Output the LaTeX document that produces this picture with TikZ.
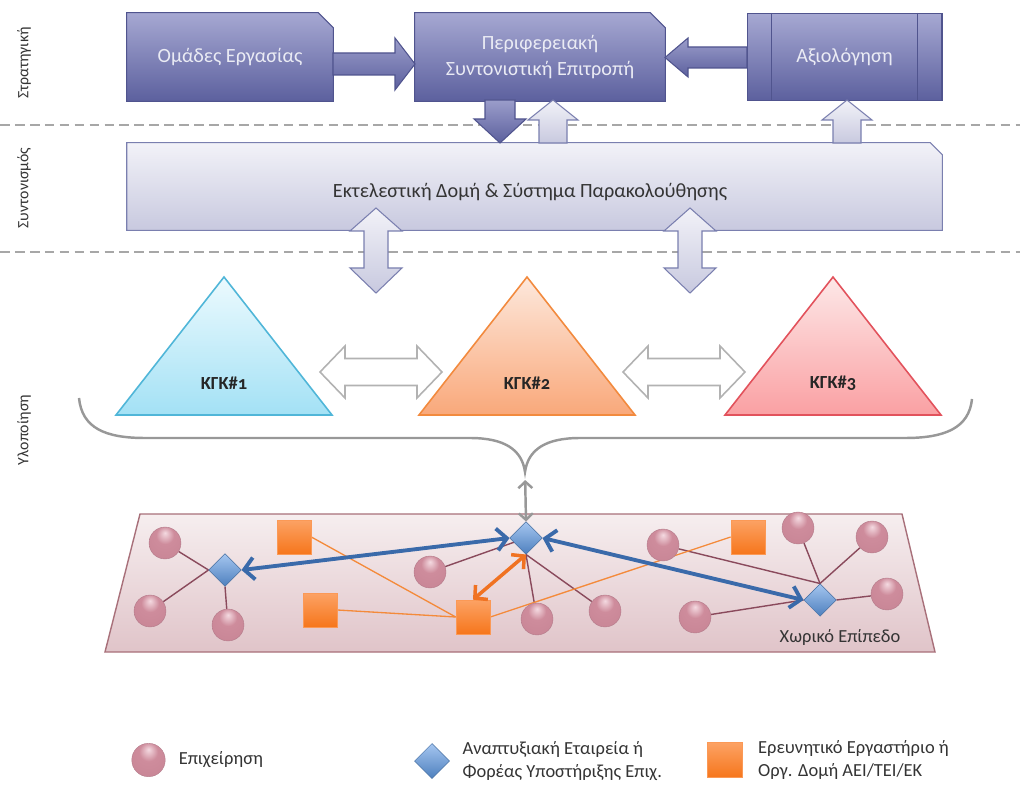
\documentclass[tikz,border=0pt]{standalone}
\usepackage{fontspec}
\setmainfont{Carlito}
\usetikzlibrary{arrows.meta,positioning,shapes.geometric,backgrounds}
\definecolor{stDark}{RGB}{92,96,158}
\definecolor{stDarkT}{RGB}{166,168,210}
\definecolor{stEdge}{RGB}{80,84,142}
\definecolor{stLight}{RGB}{200,201,223}
\definecolor{stLightT}{RGB}{242,242,248}
\definecolor{stLightE}{RGB}{122,127,175}
\definecolor{cyanT}{RGB}{236,250,254}
\definecolor{cyanB}{RGB}{163,225,245}
\definecolor{cyanE}{RGB}{80,182,216}
\definecolor{orT}{RGB}{253,232,220}
\definecolor{orB}{RGB}{249,168,122}
\definecolor{orE}{RGB}{242,138,62}
\definecolor{redT}{RGB}{253,232,232}
\definecolor{redB}{RGB}{250,160,163}
\definecolor{redE}{RGB}{226,82,92}
\definecolor{planeT}{RGB}{246,238,239}
\definecolor{planeB}{RGB}{224,196,201}
\definecolor{planeE}{RGB}{168,112,122}
\definecolor{bizHi}{RGB}{244,218,225}
\definecolor{bizC}{RGB}{206,140,156}
\definecolor{bizD}{RGB}{158,88,106}
\definecolor{bizL}{RGB}{138,74,92}
\definecolor{devT}{RGB}{165,198,240}
\definecolor{devB}{RGB}{78,128,190}
\definecolor{labT}{RGB}{252,162,100}
\definecolor{labB}{RGB}{246,118,28}
\definecolor{labL}{RGB}{244,138,58}
\definecolor{linkB}{RGB}{58,106,170}
\definecolor{linkO}{RGB}{240,114,34}
\definecolor{guide}{RGB}{152,152,152}
\definecolor{ink}{RGB}{52,52,52}
\pgfdeclareradialshading{bizball}{\pgfpoint{0bp}{16bp}}{%
  color(0bp)=(bizHi); color(14bp)=(bizC); color(40bp)=(bizC!85!bizD); color(60bp)=(bizD)}
\tikzset{
  topbox/.style={top color=stDarkT, bottom color=stDark, draw=stEdge, line width=0.6pt},
  toptxt/.style={
    text=stLightT!90!stDarkT, align=center, inner sep=0pt,
    font=\fontsize{11.5}{15}\selectfont
  },
  midbox/.style={top color=stLightT, bottom color=stLight, draw=stLightE, line width=0.6pt},
  darkarr/.style={top color=stDarkT!85!stDark, bottom color=stDark, draw=stEdge, line width=0.6pt},
  lightarr/.style={top color=stLightT, bottom color=stLight, draw=stLightE, line width=0.6pt},
  openarr/.style={fill=white, draw=guide!75, line width=0.9pt},
  divider/.style={draw=guide!85, line width=1.3pt, dash pattern=on 5.5pt off 3pt},
  tier/.style={rotate=90, text=ink, font=\fontsize{9}{10}\selectfont},
  kgk/.style={text=black!85, font=\bfseries\fontsize{10.5}{12}\selectfont\addfontfeatures{Numbers=OldStyle}},
  bracket/.style={draw=guide, line width=1.4pt},
  biz/.style={circle, shading=bizball, draw=bizD!80, line width=0.2pt, minimum size=0.64cm, inner sep=0pt},
  dev/.style={
    diamond, aspect=1, minimum size=0.65cm, inner sep=0pt,
    top color=devT, bottom color=devB, draw=devB!85!black, line width=0.3pt
  },
  lab/.style={
    rectangle, minimum size=0.68cm, inner sep=0pt,
    top color=labT, bottom color=labB, draw=labT!80!labB, line width=0.4pt
  },
  tie/.style={draw=bizL, line width=0.8pt},
  labtie/.style={draw=labL, line width=0.75pt},
  bluelink/.style={{Straight Barb[length=2mm,width=4.4mm]}-{Straight Barb[length=2mm,width=4.4mm]}, draw=linkB, line width=2.2pt},
  orlink/.style={{Straight Barb[length=1.8mm,width=3.8mm]}-{Straight Barb[length=1.8mm,width=3.8mm]}, draw=linkO, line width=2pt},
  greylink/.style={{Straight Barb[length=1.3mm,width=2.8mm]}-{Straight Barb[length=1.3mm,width=2.8mm]}, draw=guide, line width=1.4pt},
  legtxt/.style={anchor=west, align=left, text=ink, inner sep=0pt, font=\fontsize{10.5}{13}\selectfont}
}
\begin{document}
\begin{tikzpicture}[x=0.02cm, y=-0.02cm]
  \useasboundingbox (0,0) rectangle (1020,786);
  % levels
  \node[tier] (t1) at (24,63) {Στρατηγική};
  \node[tier] (t2) at (24,188) {Συντονισμός};
  \node[tier] (t3) at (24,430) {Υλοποίηση};

  % strategy and coordination boxes
  \node[toptxt, minimum width=4.12cm, minimum height=1.76cm] (omad) at (230,57) {Ομάδες Εργασίας};
  \node[toptxt, minimum width=5cm, minimum height=1.76cm] (peri) at (540,57) {Περιφερειακή\\Συντονιστική Επιτροπή};
  \node[toptxt, topbox, minimum width=3.9cm, minimum height=1.74cm] (axio) at (844.5,57) {Αξιολόγηση};
  \draw[stEdge, line width=0.6pt] ([xshift=0.5cm]axio.north west) -- ([xshift=0.5cm]axio.south west)
    ([xshift=-0.5cm]axio.north east) -- ([xshift=-0.5cm]axio.south east);
  \node[minimum width=16.3cm, minimum height=1.74cm] (exec) at (534.5,186.5) {};
  \node[text=ink, font=\fontsize{11.5}{14}\selectfont] (exectxt) at (530,192) {Εκτελεστική Δομή \& Σύστημα Παρακολούθησης};

  \begin{scope}[on background layer]
    \draw[divider] (0,125) -- (1020,125);
    \draw[divider] (0,252) -- (1020,252);
    \foreach \b in {omad,peri}
      \path[topbox] (\b.south west) -- (\b.north west) -- ([xshift=-0.3cm]\b.north east)
        -- ([yshift=-0.3cm]\b.north east) -- (\b.south east) -- cycle;
    \path[midbox] (exec.south west) -- (exec.north west) -- ([xshift=-0.24cm]exec.north east)
      -- ([yshift=-0.24cm]exec.north east) -- (exec.south east) -- cycle;
  \end{scope}

  % block arrows
  \path[darkarr] (333,53) -- (395,53) -- (395,38) -- (415,64) -- (395,90) -- (395,75) -- (333,75) -- cycle;
  \path[darkarr] (747,47) -- (688,47) -- (688,38) -- (665,57.5) -- (688,77) -- (688,68) -- (747,68) -- cycle;
  \path[darkarr] (485,100) -- (515,100) -- (515,119) -- (526,119) -- (500,143) -- (474,119) -- (485,119) -- cycle;
  \foreach \ux in {553,847}
    \path[lightarr] (\ux,100) -- ({\ux+25},120) -- ({\ux+14},120) -- ({\ux+14},143)
      -- ({\ux-14},143) -- ({\ux-14},120) -- ({\ux-25},120) -- cycle;
  \foreach \vx in {376,690}
    \path[lightarr] (\vx,208) -- ({\vx+26},231) -- ({\vx+12},231) -- ({\vx+12},268) -- ({\vx+26},268)
      -- (\vx,293) -- ({\vx-26},268) -- ({\vx-12},268) -- ({\vx-12},231) -- ({\vx-26},231) -- cycle;

  % clusters
  \foreach \tx/\n/\ct/\cb/\ce in {224/1/cyanT/cyanB/cyanE, 527/2/orT/orB/orE, 833/3/redT/redB/redE}{
    \path[top color=\ct, bottom color=\cb, draw=\ce, line width=0.9pt]
      (\tx,277) -- ({\tx+108},415) -- ({\tx-108},415) -- cycle;
    \node[kgk] (k\n) at (\tx,383) {ΚΓΚ\#\n};
  }
  \foreach \hx in {320,623}
    \path[openarr] (\hx,372) -- ({\hx+25},346) -- ({\hx+25},358.5) -- ({\hx+97},358.5) -- ({\hx+97},346)
      -- ({\hx+122},372) -- ({\hx+97},398) -- ({\hx+97},385.5) -- ({\hx+25},385.5) -- ({\hx+25},398) -- cycle;

  \coordinate (tip) at (525,472);
  \draw[bracket] (79,398) .. controls (82,428) and (105,438) .. (145,438) -- (470,438)
    .. controls (505,438) and (522,450) .. (tip)
    .. controls (528,450) and (545,438) .. (580,438) -- (905,438)
    .. controls (945,438) and (969,428) .. (972,399);

  % spatial level
  \foreach \n/\x/\y in {1/165/543, 2/150/611, 3/228/625, 4/430/572, 5/537/619, 6/605/611,
                        7/663/545, 8/695/617, 9/798/528, 10/872/537, 11/887/594}
    \node[biz] (c\n) at (\x,\y) {};
  \node[dev] (d1) at (225,570) {};
  \node[dev] (d2) at (526,538) {};
  \node[dev] (d3) at (820,600) {};
  \foreach \n/\x/\y in {1/294/537, 2/320/610, 3/473/617, 4/748/537}
    \node[lab] (s\n) at (\x,\y) {};
  \node[text=ink, font=\fontsize{10.5}{12}\selectfont] (spat) at (840,637) {Χωρικό Επίπεδο};

  \begin{scope}[on background layer]
    \path[top color=planeT, bottom color=planeB, draw=planeE, line width=0.8pt]
      (140,514) -- (902,514) -- (935,652) -- (105,652) -- cycle;
    \foreach \a/\b in {c1/d1.west, c2/d1.west, c3/d1.south, c4/d2, c5/d2.south, c6/d2.south,
                       c7/d3.north, c9/d3.north, c10/d3.north, c8/d3.west, c11/d3.east}
      \draw[tie] (\a) -- (\b);
    \foreach \a/\b in {s1.east/s3.west, s2.east/s3.west, s3.east/s4.west}
      \draw[labtie] (\a) -- (\b);
  \end{scope}

  \draw[bluelink] (d1.east) -- (d2.west);
  \draw[bluelink] (d2.east) -- (d3.west);
  \draw[orlink] (d2.south) -- (s3.north);
  \draw[greylink, shorten <=1.6mm] (tip) -- (d2.north);

  % legend
  \node[biz, minimum size=0.67cm] (lbiz) at (148.5,760) {};
  \node[legtxt, right=0.26cm of lbiz] (tbiz) {Επιχείρηση};
  \node[dev, minimum size=0.7cm] (ldev) at (432,761) {};
  \node[legtxt, right=0.25cm of ldev] (tdev) {Αναπτυξιακή Εταιρεία ή\\Φορέας Υποστήριξης Επιχ.};
  \node[lab, minimum size=0.7cm] (llab) at (725,760) {};
  \node[legtxt, right=0.3cm of llab] (tlab) {Ερευνητικό Εργαστήριο ή\\Οργ. Δομή ΑΕΙ/ΤΕΙ/ΕΚ};
\end{tikzpicture}
\end{document}
